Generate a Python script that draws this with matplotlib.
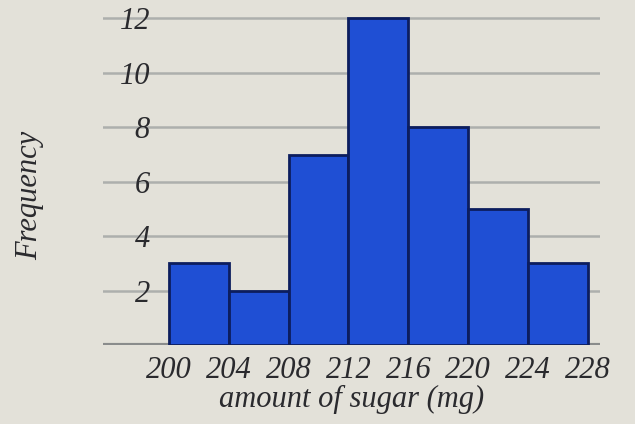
import matplotlib
matplotlib.use("Agg")
import matplotlib.pyplot as plt

bin_edges = [200, 204, 208, 212, 216, 220, 224, 228]
frequencies = [3, 2, 7, 12, 8, 5, 3]
y_ticks = [2, 4, 6, 8, 10, 12]

bg = "#e3e1d9"
fig = plt.figure(figsize=(6.35, 4.24), dpi=100, facecolor=bg)
ax = fig.add_axes([0.162, 0.186, 0.783, 0.809], facecolor=bg)

lefts = bin_edges[:-1]
widths = [b - a for a, b in zip(bin_edges[:-1], bin_edges[1:])]
ax.bar(lefts, frequencies, width=widths, align="edge", color="#1f4fd4",
       edgecolor="#0c1d5e", linewidth=2, zorder=3)

ax.set_xlim(195.6, 228.8)
ax.set_ylim(0, 12.6)
ax.set_yticks(y_ticks)
ax.set_xticks(bin_edges)
ax.yaxis.grid(True, color="#adafad", linewidth=1.8, zorder=0)
ax.axhline(0, color="#8a8c8c", linewidth=3, zorder=2)
for s in ax.spines.values():
    s.set_visible(False)

font = dict(family="Liberation Serif", style="italic", size=22, color="#2a2a2e")
ax.tick_params(axis="both", length=0)
ax.tick_params(axis="y", pad=-34)
ax.tick_params(axis="x", pad=8)
for lab in ax.get_yticklabels() + ax.get_xticklabels():
    lab.set_fontfamily("Liberation Serif")
    lab.set_fontstyle("italic")
    lab.set_fontsize(22)
    lab.set_color("#2a2a2e")

ax.set_xlabel("amount of sugar (mg)", labelpad=0, **font)
fig.text(0.047, 0.54, "Frequency", rotation=90, ha="center", va="center",
         family="Liberation Serif", style="italic", size=22, color="#2a2a2e")

fig.savefig("out.png", dpi=100, facecolor=bg)
